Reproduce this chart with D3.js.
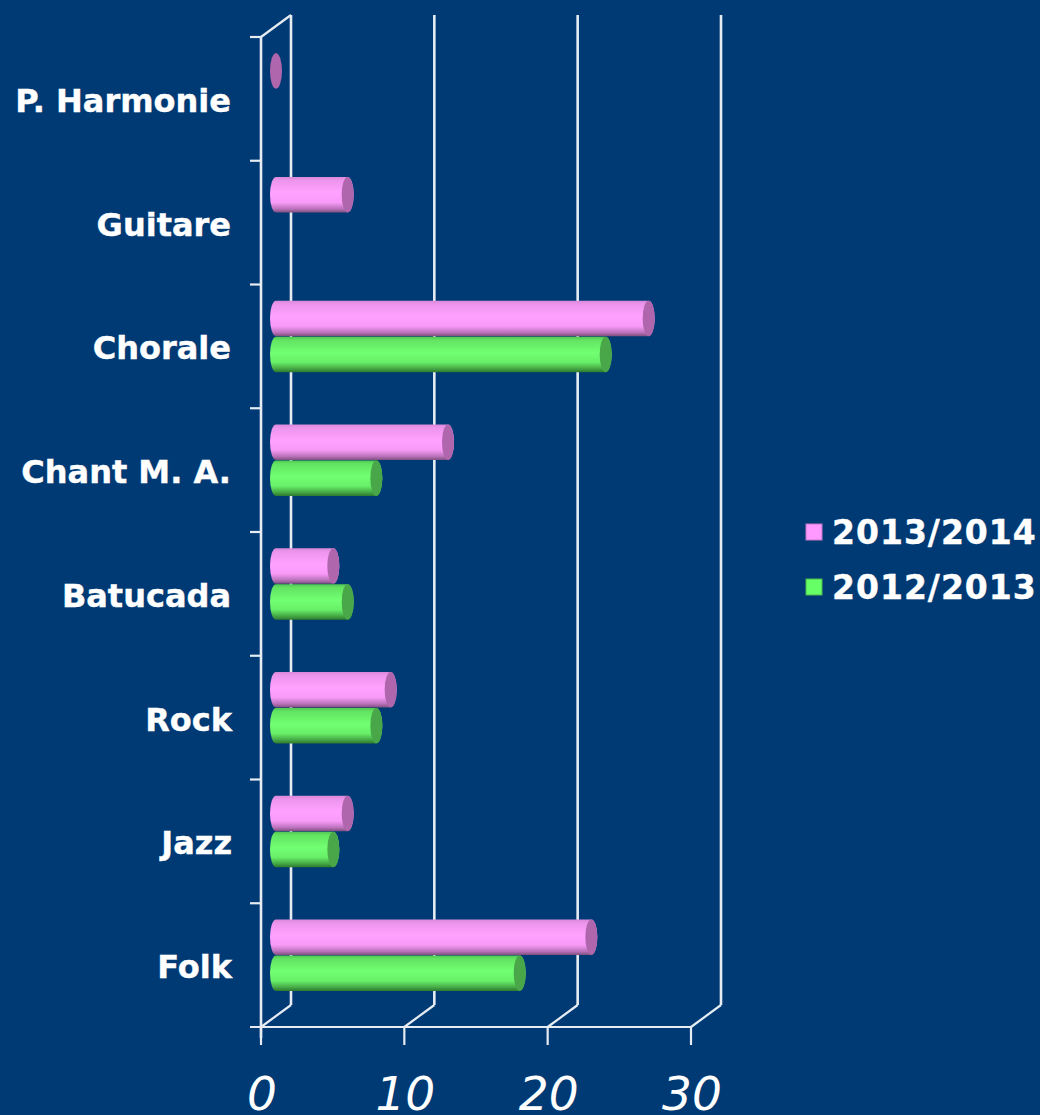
<!DOCTYPE html>
<html><head><meta charset="utf-8">
<script src="https://cdn.jsdelivr.net/npm/d3@7"></script>
<style>html,body{margin:0;padding:0;background:#003a75;overflow:hidden}svg{display:block}</style>
</head><body><svg id="c" width="1040" height="1115"></svg>
<script>
const categories = ["Folk","Jazz","Rock","Batucada","Chant M. A.","Chorale","Guitare","P. Harmonie"];
const seriesNames = ["2013/2014","2012/2013"];
const values2013 = [22,5,8,4,12,26,5,0];
const values2012 = [17,4,7,5,7,23,null,null];
const xTicks = [0,10,20,30];

const svg = d3.select("#c");
const x = d3.scaleLinear().domain([0,30]).range([261,691]);
const y = d3.scaleBand().domain(categories).range([1027,37]);
const inner = d3.scaleBand().domain(seriesNames).range([0,72]);
const depthX = 30, depthY = -22;
const rx = 6, barH = inner.bandwidth()-0.5;
const lineCol = "#e6ecf2";

const defs = svg.append("defs");
function grad(id, stops){
  const g = defs.append("linearGradient").attr("id",id).attr("x1",0).attr("x2",0).attr("y1",0).attr("y2",1);
  stops.forEach(s=>g.append("stop").attr("offset",s[0]).attr("stop-color",s[1]));
}
grad("pink",[[0,"#d888d8"],[0.1,"#ec94ec"],[0.45,"#ffa2ff"],[0.72,"#f89af8"],[0.9,"#bb72bb"],[1,"#80507f"]]);
grad("green",[[0,"#52c452"],[0.1,"#62e462"],[0.45,"#72ff72"],[0.72,"#68f068"],[0.9,"#45a845"],[1,"#2f7a2f"]]);
const colors = {"2013/2014":{fill:"url(#pink)",cap:"#b066ac",key:"#ff99ff",edge:"#c47ac4"},
                "2012/2013":{fill:"url(#green)",cap:"#49a749",key:"#66ff66",edge:"#4cb84c"}};

// walls and gridlines
const wall = svg.append("g").attr("fill","none").attr("stroke",lineCol).attr("stroke-width",2.6);
xTicks.forEach(t=>{
  wall.append("path").attr("d",d3.line()([[x(t)+depthX,y.range()[0]+depthY],[x(t)+depthX,y.range()[1]+depthY]]));
});
wall.append("path").attr("d",d3.line()([[x(0),y.range()[1]],[x(0),y.range()[0]+11]]));
const grid = svg.append("g").attr("fill","none").attr("stroke",lineCol).attr("stroke-width",2.2);
xTicks.forEach(t=>{
  grid.append("path").attr("d",d3.line()([[x(t),y.range()[0]],[x(t)+depthX,y.range()[0]+depthY]]));
});
grid.append("path").attr("d",d3.line()([[x(0),y.range()[1]],[x(0)+depthX,y.range()[1]+depthY]]));
grid.append("path").attr("d",d3.line()([[x(0)-11,y.range()[0]],[x(30),y.range()[0]]]));
categories.forEach(c=>{
  grid.append("path").attr("d",d3.line()([[x(0)-11,y(c)],[x(0),y(c)]]));
});
xTicks.forEach(t=>{
  grid.append("path").attr("d",d3.line()([[x(t),y.range()[0]],[x(t),y.range()[0]+18]]));
});

// bars
const rows = [];
categories.forEach((c,i)=>{
  rows.push({c,s:seriesNames[0],v:values2013[i]});
  if(values2012[i]!=null) rows.push({c,s:seriesNames[1],v:values2012[i]});
});
const bars = svg.append("g");
rows.forEach(d=>{
  const cy = y(d.c)+y.bandwidth()/2+depthY/2-35+inner(d.s)+inner.bandwidth()/2;
  const x0 = x(0)+depthX/2, x1 = x(d.v)+depthX/2;
  const top = cy-barH/2, bot = cy+barH/2;
  if(d.v>0){
    bars.append("path").attr("fill",colors[d.s].fill)
      .attr("d",`M${x0},${top}L${x1},${top}A${rx},${barH/2} 0 0 1 ${x1},${bot}L${x0},${bot}A${rx},${barH/2} 0 0 1 ${x0},${top}Z`);
  }
  bars.append("ellipse").attr("cx",x1).attr("cy",cy).attr("rx",rx).attr("ry",barH/2).attr("fill",colors[d.s].cap);
});

// labels
svg.append("g").selectAll("text").data(categories).join("text")
  .attr("x",d=>d==="Rock"||d==="Jazz"||d==="Folk"?232:231)
  .attr("y",d=>y(d)+y.bandwidth()/2+depthY/2+24)
  .attr("text-anchor","end").attr("fill","#fff")
  .attr("stroke","#fff").attr("stroke-width",0.4)
  .attr("font-family","'DejaVu Sans'").attr("font-weight","bold").attr("font-size",32)
  .text(d=>d);
svg.append("g").selectAll("text").data(xTicks).join("text")
  .attr("x",d=>x(d)+1).attr("y",1110).attr("text-anchor","middle").attr("fill","#fff")
  .attr("font-family","'DejaVu Sans'").attr("font-style","italic").attr("font-size",47)
  .text(d=>d);

// legend
const legendY = d3.scaleBand().domain(seriesNames).range([504.5,614.5]);
const lg = svg.append("g").selectAll("g").data(seriesNames).join("g")
  .attr("transform",d=>`translate(806,${legendY(d)+legendY.bandwidth()/2})`);
lg.append("rect").attr("x",0).attr("y",-8).attr("width",16).attr("height",16)
  .attr("fill",d=>colors[d].key).attr("stroke",d=>colors[d].edge).attr("stroke-width",1);
lg.append("text").attr("x",26).attr("y",12).attr("fill","#fff")
  .attr("stroke","#fff").attr("stroke-width",0.4)
  .attr("font-family","'DejaVu Sans'").attr("font-weight","bold").attr("font-size",33)
  .attr("letter-spacing",1)
  .text(d=>d);
</script></body></html>
